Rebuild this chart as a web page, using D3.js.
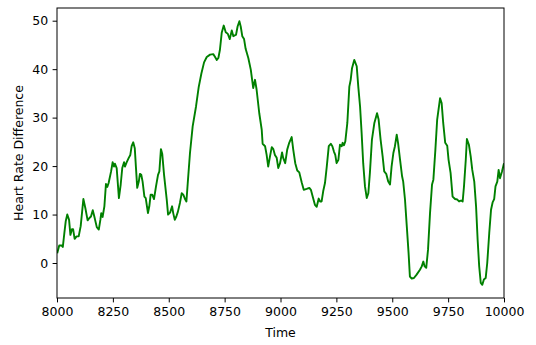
<!DOCTYPE html>
<html>
<head>
<meta charset="utf-8">
<script src="https://cdn.jsdelivr.net/npm/d3@7"></script>
<style>
  html, body { margin: 0; padding: 0; background: #fff; }
  svg { display: block; font-family: "DejaVu Sans", sans-serif; }
</style>
</head>
<body>
<svg id="chart" width="536" height="345"></svg>
<script>
// Time stamps of the heart-rate difference trace
const times = [
  8001, 8010, 8021, 8026, 8033, 8039, 8046, 8054, 8060, 8067, 8072, 8079, 8088, 8097,
  8106, 8118, 8127, 8137, 8145, 8152, 8160, 8167, 8178, 8187, 8194, 8198, 8204, 8212,
  8219, 8225, 8231, 8242, 8249, 8255, 8259, 8267, 8277, 8285, 8292, 8300, 8304, 8312,
  8321, 8328, 8334, 8341, 8348, 8353, 8359, 8366, 8371, 8377, 8383, 8391, 8397, 8407,
  8413, 8419, 8426, 8434, 8443, 8452, 8458, 8465, 8471, 8479, 8491, 8497, 8506, 8515,
  8520, 8527, 8534, 8541, 8550, 8558, 8565, 8574, 8579, 8585, 8595, 8607, 8622, 8634,
  8646, 8658, 8670, 8685, 8699, 8706, 8715, 8722, 8729, 8737, 8746, 8755, 8764, 8773,
  8782, 8789, 8801, 8808, 8816, 8822, 8829, 8837, 8844, 8856, 8867, 8874, 8878, 8886,
  8893, 8905, 8916, 8920, 8931, 8938, 8945, 8953, 8961, 8968, 8975, 8983, 8990, 8998,
  9007, 9012, 9021, 9030, 9039, 9050, 9057, 9066, 9075, 9084, 9095, 9104, 9117, 9129,
  9136, 9144, 9154, 9162, 9171, 9177, 9184, 9191, 9199, 9207, 9216, 9225, 9232, 9239,
  9245, 9251, 9259, 9266, 9274, 9278, 9284, 9290, 9299, 9308, 9314, 9320, 9330, 9341,
  9348, 9356, 9363, 9370, 9378, 9386, 9393, 9400, 9409, 9420, 9432, 9439, 9448, 9457,
  9464, 9473, 9482, 9490, 9497, 9505, 9512, 9520, 9526, 9535, 9544, 9549, 9557, 9565,
  9573, 9579, 9587, 9597, 9609, 9624, 9632, 9639, 9645, 9652, 9660, 9669, 9678, 9684,
  9693, 9701, 9714, 9721, 9728, 9737, 9746, 9752, 9761, 9770, 9781, 9791, 9799, 9808,
  9815, 9821, 9829, 9834, 9843, 9851, 9858, 9867, 9875, 9882, 9889, 9896, 9903, 9910,
  9918, 9925, 9934, 9942, 9949, 9956, 9962, 9970, 9976, 9982, 9991, 10000
];

// Heart rate difference at each time stamp
const hrDiff = [
  2.0, 3.6, 3.6, 3.3, 6.2, 8.6, 10.0, 8.9, 5.8, 7.0, 7.0, 5.0, 5.5, 5.5,
  7.6, 13.2, 11.3, 8.8, 9.3, 9.6, 10.9, 9.6, 7.4, 6.9, 8.9, 10.3, 9.5, 11.7,
  16.3, 15.7, 16.5, 18.9, 20.8, 19.9, 20.5, 19.6, 13.4, 16.2, 19.6, 20.8, 19.9, 20.8,
  21.7, 22.3, 24.1, 24.9, 23.7, 19.9, 15.5, 16.8, 18.4, 18.2, 16.8, 13.7, 13.4, 10.3,
  11.7, 14.1, 14.1, 13.2, 15.8, 18.2, 18.9, 23.5, 22.5, 18.2, 13.1, 10.0, 10.4, 11.7,
  10.3, 8.9, 9.6, 10.6, 12.4, 14.4, 14.1, 13.1, 12.7, 16.5, 22.7, 28.2, 32.3, 36.3,
  39.1, 41.4, 42.5, 43.0, 43.1, 42.6, 41.9, 42.3, 44.0, 47.5, 49.0, 47.6, 47.3, 46.2,
  48.0, 46.8, 47.1, 48.8, 49.9, 48.8, 46.8, 46.2, 44.2, 42.3, 39.9, 37.5, 36.1, 37.8,
  35.8, 30.9, 27.5, 24.6, 24.1, 22.3, 19.9, 22.0, 23.9, 23.5, 22.3, 21.7, 19.6, 20.6,
  22.8, 21.7, 20.6, 23.4, 24.8, 26.0, 23.4, 20.6, 19.1, 18.7, 16.6, 15.1, 15.3, 15.5,
  15.1, 13.7, 12.0, 11.6, 13.3, 12.7, 12.7, 14.8, 16.5, 19.9, 24.1, 24.6, 24.1, 23.0,
  22.3, 20.6, 21.3, 24.4, 24.1, 24.8, 24.3, 25.1, 28.9, 36.4, 37.8, 40.2, 41.9, 40.6,
  36.4, 32.3, 26.8, 20.6, 15.8, 13.4, 14.4, 18.6, 25.4, 28.9, 30.9, 29.6, 25.4, 22.0,
  18.9, 18.4, 16.8, 16.2, 19.9, 22.7, 24.1, 26.5, 24.8, 21.3, 17.9, 16.8, 13.1, 7.6,
  2.1, -2.8, -3.2, -3.1, -2.4, -1.4, -0.7, 0.3, -0.7, -1.0, 2.7, 10.3, 16.2, 17.2,
  23.4, 29.6, 34.0, 33.0, 28.9, 24.8, 24.2, 21.3, 18.6, 13.7, 13.2, 13.1, 12.7, 12.9,
  12.7, 15.8, 21.3, 25.6, 24.4, 22.0, 19.2, 16.8, 11.7, 4.8, -0.7, -4.1, -4.5, -3.4,
  -3.1, 0.0, 6.2, 11.0, 12.5, 13.2, 15.8, 16.8, 19.2, 17.5, 18.9, 20.6
];

const xTicks = [8000, 8250, 8500, 8750, 9000, 9250, 9500, 9750, 10000];
const yTicks = [0, 10, 20, 30, 40, 50];
const xLabel = "Time";
const yLabel = "Heart Rate Difference";

const svg = d3.select("#chart");
const width = 536, height = 345;
const margin = { top: 8, right: 32, bottom: 47, left: 57 };
const innerW = width - margin.left - margin.right;
const innerH = height - margin.top - margin.bottom;

const data = times.map((t, i) => ({ t, v: hrDiff[i] }));

// y range padded by 5% of the data span on both ends
const [vMin, vMax] = d3.extent(hrDiff);
const pad = (vMax - vMin) * 0.05;

const x = d3.scaleLinear().domain([8000, 10000]).range([0, innerW]);
const y = d3.scaleLinear().domain([vMin - pad, vMax + pad]).range([innerH, 0]);

const g = svg.append("g").attr("transform", `translate(${margin.left},${margin.top})`);

const defs = svg.append("defs");
defs.append("clipPath").attr("id", "plot-clip")
  .append("rect").attr("width", innerW).attr("height", innerH);

// trace
g.append("path")
  .datum(data)
  .attr("clip-path", "url(#plot-clip)")
  .attr("fill", "none")
  .attr("stroke", "#008000")
  .attr("stroke-width", 1.9)
  .attr("stroke-linejoin", "round")
  .attr("stroke-linecap", "butt")
  .attr("d", d3.line().x(d => x(d.t)).y(d => y(d.v)));

const fontSize = 12.5;

// x axis
const xAxis = g.append("g")
  .attr("transform", `translate(0,${innerH})`)
  .call(d3.axisBottom(x).tickValues(xTicks).tickFormat(d3.format("d")).tickSize(4.4).tickPadding(4.6));

// y axis
const yAxis = g.append("g")
  .call(d3.axisLeft(y).tickValues(yTicks).tickFormat(d3.format("d")).tickSize(4.4).tickPadding(4.4));

[xAxis, yAxis].forEach(ax => {
  ax.select(".domain").remove();
  ax.selectAll(".tick line").attr("stroke", "#000").attr("stroke-width", 1);
  ax.selectAll(".tick text")
    .attr("fill", "#000")
    .style("font-size", fontSize + "px")
    .style("font-family", "'DejaVu Sans', sans-serif");
});

// frame
g.append("rect")
  .attr("x", 0).attr("y", 0)
  .attr("width", innerW).attr("height", innerH)
  .attr("fill", "none")
  .attr("stroke", "#000")
  .attr("stroke-width", 1);

// axis labels
svg.append("text")
  .attr("x", margin.left + innerW / 2)
  .attr("y", 336.5)
  .attr("text-anchor", "middle")
  .style("font-size", fontSize + "px")
  .attr("fill", "#000")
  .text(xLabel);

svg.append("text")
  .attr("transform", `translate(22.5,${margin.top + innerH / 2}) rotate(-90)`)
  .attr("text-anchor", "middle")
  .style("font-size", fontSize + "px")
  .attr("fill", "#000")
  .text(yLabel);
</script>
</body>
</html>
